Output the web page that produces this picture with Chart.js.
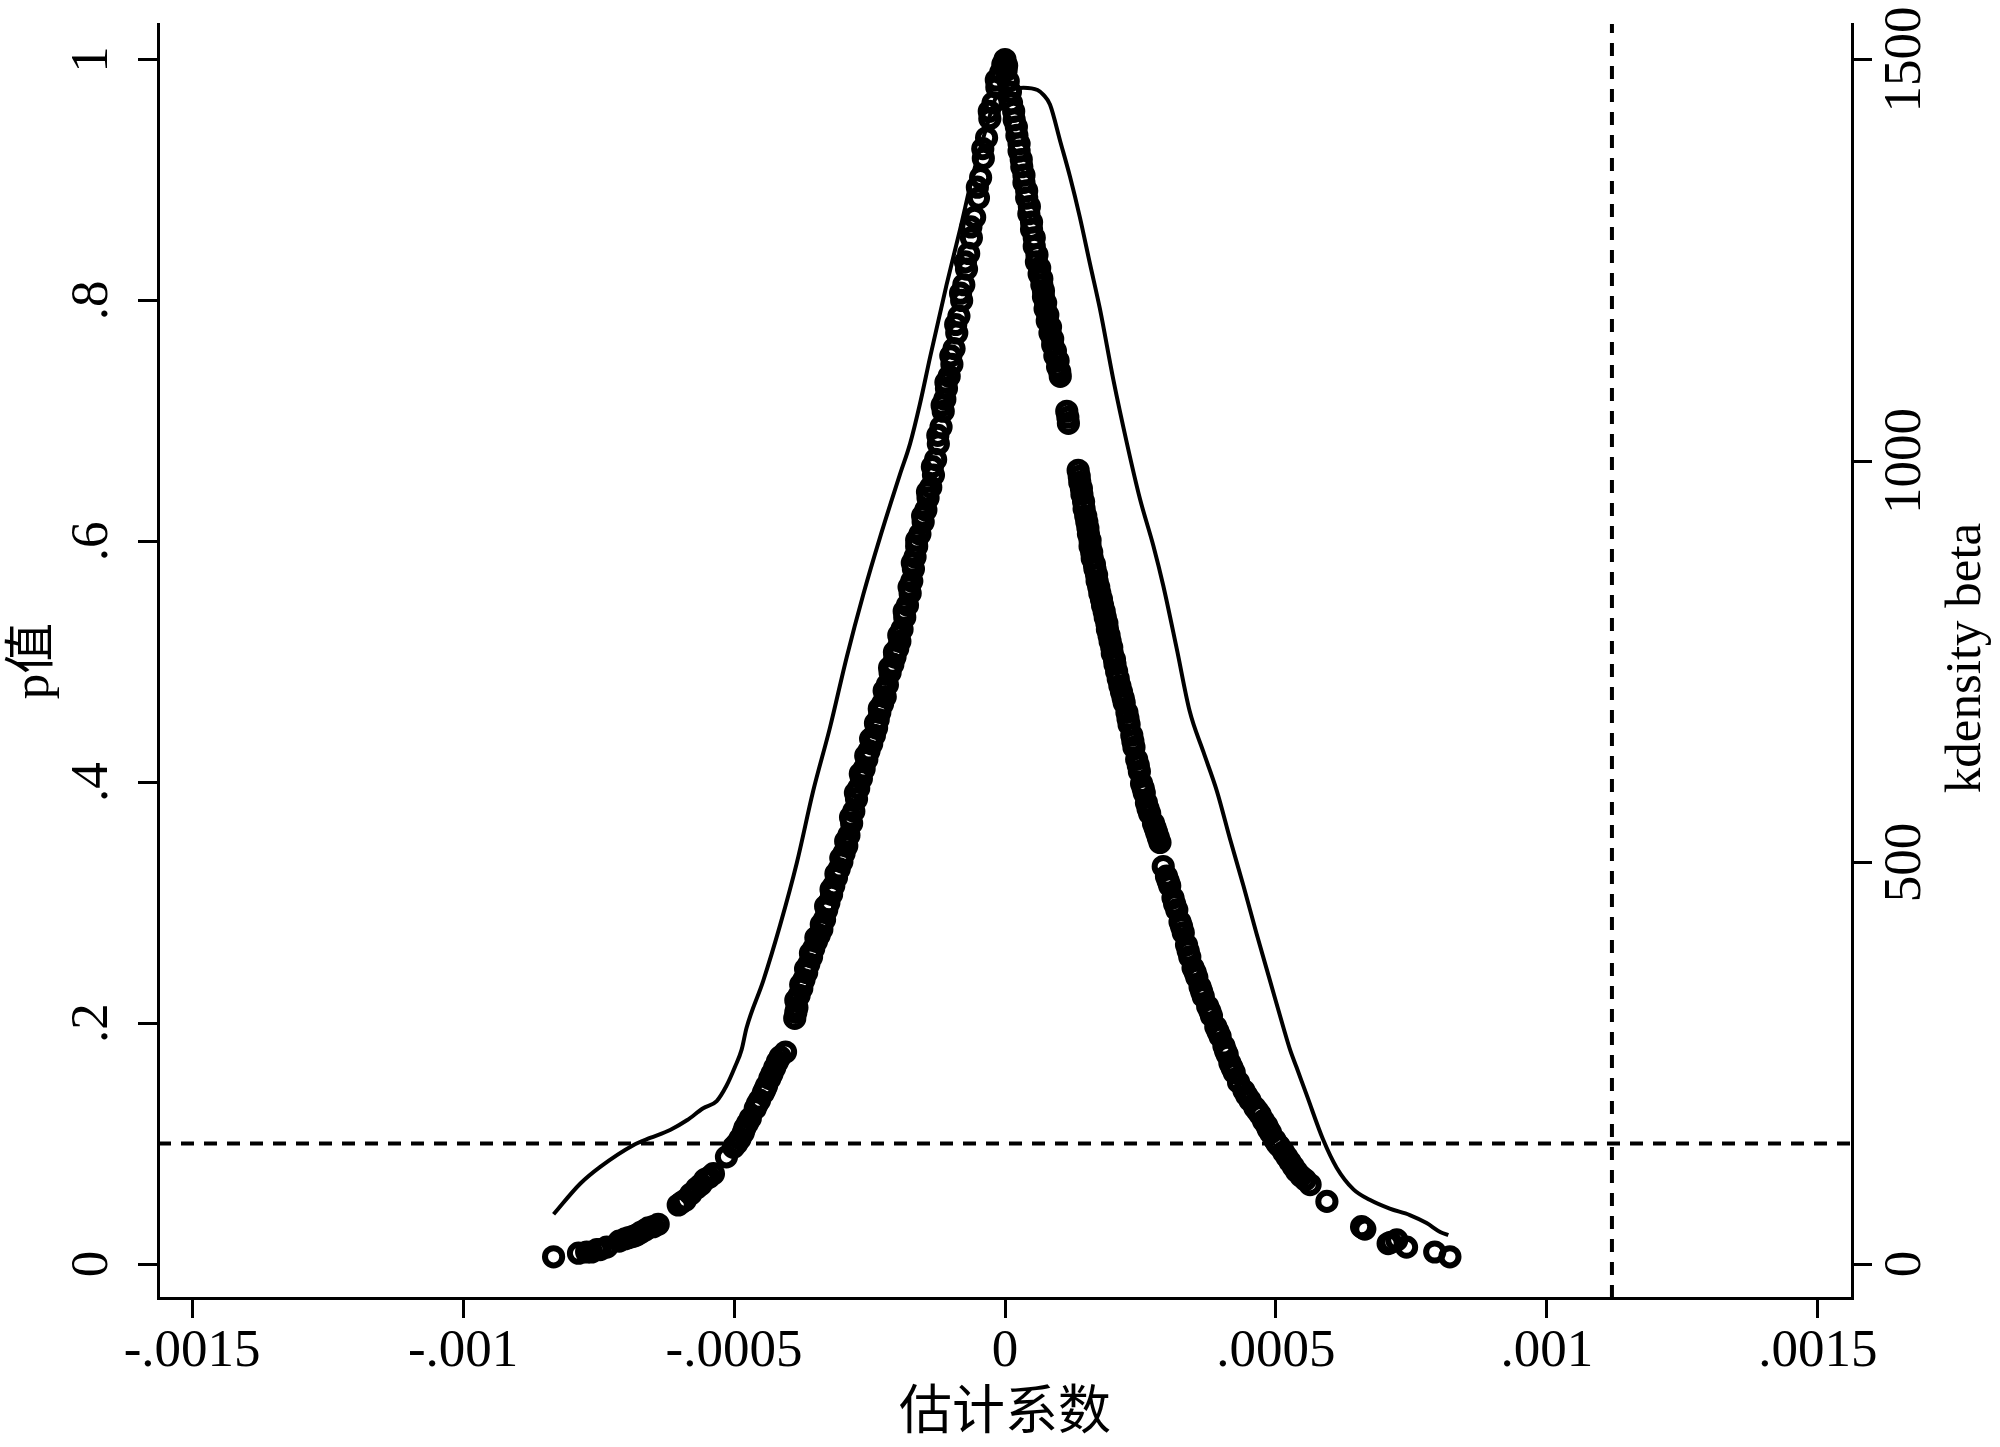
<!DOCTYPE html>
<html><head><meta charset="utf-8">
<script src="https://cdn.jsdelivr.net/npm/chart.js@4.4.0/dist/chart.umd.min.js"></script>
<style>html,body{margin:0;padding:0;background:#fff;}canvas{display:block;}</style>
</head><body>
<canvas id="c" width="2000" height="1447"></canvas>
<script>
// ---- tick values / labels ----
const xTickValues = [-0.0015, -0.001, -0.0005, 0, 0.0005, 0.001, 0.0015];
const xTickLabels = ['-.0015', '-.001', '-.0005', '0', '.0005', '.001', '.0015'];
const pTickValues = [0, 0.2, 0.4, 0.6, 0.8, 1];
const pTickLabels = ['0', '.2', '.4', '.6', '.8', '1'];
const densTickValues = [0, 500, 1000, 1500];
const densTickLabels = ['0', '500', '1000', '1500'];

// ---- axis ranges ----
const xMin = -0.001563, xMax = 0.001563;
const pMin = -0.0282, pMax = 1.0295;
const dMin = -42.3, dMax = 1544.25;

// ---- reference lines ----
const refP = 0.1;
const refBeta = 0.00112;

// ---- scatter: estimated coefficient vs p value ----
const scatterBeta = [
-0.000833,-0.000787,-0.000772,-0.000763,-0.000753,-0.000747,-0.000735,-0.000712,-0.000701,-0.000694,
-0.000686,-0.000680,-0.000673,-0.000665,-0.000658,-0.000649,-0.000640,-0.000603,-0.000597,-0.000590,
-0.000580,-0.000569,-0.000561,-0.000554,-0.000546,-0.000538,-0.000514,-0.000501,-0.000489,-0.000483,
-0.000480,-0.000470,-0.000461,-0.000453,-0.000446,-0.000440,-0.000434,-0.000425,-0.000415,-0.000405,
-0.000388,-0.000384,
-0.000380,-0.000375,-0.000371,-0.000366,-0.000362,-0.000357,-0.000353,-0.000348,-0.000343,-0.000338,
-0.000333,-0.000329,-0.000325,-0.000320,-0.000316,-0.000311,-0.000306,-0.000301,-0.000297,-0.000292,
-0.000288,-0.000283,-0.000279,-0.000274,-0.000270,-0.000265,-0.000260,-0.000255,-0.000251,-0.000246,
-0.000241,-0.000237,-0.000234,-0.000231,-0.000226,-0.000221,-0.000217,-0.000212,-0.000207,-0.000203,
-0.000198,-0.000194,-0.000190,-0.000185,-0.000180,-0.000175,-0.000172,-0.000169,-0.000166,-0.000163,
-0.000157,-0.000151,-0.000146,-0.000142,-0.000137,-0.000132,-0.000128,-0.000123,-0.000118,-0.000114,
-0.000111,-0.000108,-0.000103,-0.000098,-0.000094,-0.000089,-0.000085,-0.000080,-0.000076,-0.000071,
-0.000067,-0.000062,-0.000056,-0.000049,-0.000045,-0.000040,-0.000034,-0.000028,-0.000022,-0.000015,
-0.000008,0.000000,
0.000003,0.000006,0.000012,0.000017,0.000022,0.000026,0.000031,0.000035,0.000040,0.000044,
0.000049,0.000054,0.000058,0.000063,0.000068,0.000071,0.000074,0.000078,0.000083,0.000088,
0.000092,0.000097,0.000102,0.000114,0.000117,0.000135,0.000138,0.000142,0.000146,0.000151,
0.000154,0.000157,0.000161,0.000166,0.000170,0.000175,0.000180,0.000185,0.000189,0.000194,
0.000198,0.000203,0.000209,0.000215,0.000220,0.000225,0.000229,0.000234,0.000238,0.000243,
0.000248,0.000252,0.000257,0.000261,0.000267,0.000274,0.000280,0.000286,0.000292,0.000298,
0.000304,0.000310,0.000317,0.000323,0.000329,0.000335,0.000341,0.000347,0.000354,0.000360,
0.000366,0.000374,0.000381,0.000389,0.000397,0.000404,0.000410,0.000415,0.000423,0.000431,
0.000441,0.000452,0.000461,0.000471,0.000477,0.000483,0.000490,0.000498,0.000506,0.000514,
0.000520,0.000526,0.000532,0.000538,0.000546,0.000554,0.000563,0.000594,0.000658,0.000661,
0.000664,0.000707,0.000712,0.000723,0.000741,0.000793,0.000821,
// second pass along the dense arms
-0.000495,-0.000475,-0.000457,-0.000443,-0.000430,-0.000420,-0.000386,
-0.000386,-0.000377,-0.000368,-0.000359,-0.000349,-0.000339,-0.000331,-0.000321,-0.000312,-0.000303,
-0.000294,-0.000285,-0.000276,-0.000267,-0.000257,-0.000248,-0.000239,-0.000232,-0.000223,-0.000213,
-0.000204,-0.000196,-0.000186,-0.000177,-0.000171,-0.000163,-0.000152,-0.000143,-0.000134,-0.000124,
-0.000116,-0.000109,-0.000100,-0.000091,-0.000082,-0.000073,-0.000063,-0.000051,-0.000041,-0.000029,
-0.000016,-0.000004,
0.000002,0.000010,0.000016,0.000021,0.000026,0.000030,0.000035,0.000040,0.000045,0.000049,
0.000054,0.000059,0.000064,0.000068,0.000071,0.000075,0.000079,0.000084,0.000088,0.000093,
0.000098,0.000101,0.000116,0.000137,0.000141,0.000145,0.000149,0.000153,0.000157,0.000160,
0.000165,0.000169,0.000173,0.000178,0.000183,0.000188,0.000192,0.000197,0.000202,0.000206,
0.000212,0.000218,0.000227,0.000236,0.000246,0.000255,0.000264,0.000277,0.000283,0.000301,
0.000313,0.000326,0.000338,0.000351,0.000363,0.000378,0.000393,0.000407,0.000419,0.000446,
0.000466,0.000486,0.000502
];
const scatterP = [
0.006,0.009,0.010,0.010,0.012,0.012,0.014,0.019,0.021,0.022,
0.023,0.024,0.026,0.028,0.030,0.031,0.033,0.049,0.051,0.053,
0.058,0.063,0.066,0.070,0.072,0.075,0.089,0.097,0.104,0.109,
0.113,0.121,0.129,0.136,0.142,0.148,0.154,0.163,0.172,0.176,
0.204,0.213,
0.223,0.229,0.236,0.242,0.249,0.255,0.262,0.268,0.273,0.278,
0.286,0.294,0.300,0.307,0.314,0.321,0.328,0.334,0.341,0.347,
0.356,0.366,0.376,0.386,0.395,0.403,0.411,0.419,0.426,0.432,
0.439,0.445,0.452,0.458,0.465,0.471,0.481,0.491,0.498,0.504,
0.511,0.517,0.527,0.537,0.547,0.557,0.567,0.577,0.587,0.596,
0.606,0.616,0.626,0.636,0.645,0.655,0.668,0.681,0.695,0.708,
0.718,0.727,0.737,0.747,0.760,0.773,0.787,0.800,0.813,0.826,
0.839,0.852,0.869,0.885,0.902,0.918,0.935,0.951,0.964,0.977,
0.989,1.000,
0.995,0.982,0.964,0.950,0.937,0.924,0.911,0.898,0.885,0.872,
0.859,0.845,0.832,0.822,0.813,0.803,0.793,0.783,0.773,0.763,
0.754,0.745,0.737,0.708,0.698,0.659,0.649,0.639,0.627,0.616,
0.606,0.596,0.586,0.577,0.567,0.557,0.547,0.537,0.527,0.517,
0.507,0.498,0.486,0.475,0.466,0.458,0.448,0.439,0.429,0.419,
0.409,0.399,0.391,0.383,0.374,0.366,0.358,0.350,0.330,0.322,
0.314,0.304,0.294,0.284,0.275,0.265,0.255,0.246,0.238,0.230,
0.222,0.214,0.206,0.197,0.189,0.181,0.174,0.167,0.159,0.151,
0.144,0.136,0.130,0.124,0.119,0.115,0.109,0.103,0.098,0.093,
0.089,0.085,0.081,0.077,0.073,0.070,0.066,0.052,0.031,0.030,
0.029,0.017,0.018,0.020,0.014,0.010,0.006,
// second pass along the dense arms
0.100,0.117,0.133,0.145,0.158,0.168,0.209,
0.219,0.232,0.245,0.258,0.271,0.282,0.297,0.311,0.324,0.337,
0.351,0.371,0.391,0.407,0.422,0.436,0.449,0.461,0.476,0.495,
0.508,0.522,0.542,0.562,0.582,0.601,0.621,0.641,0.662,0.688,
0.713,0.732,0.754,0.780,0.806,0.832,0.861,0.894,0.926,0.957,
0.983,0.996,
0.991,0.973,0.957,0.944,0.930,0.917,0.904,0.891,0.878,0.865,
0.852,0.838,0.827,0.818,0.808,0.798,0.788,0.778,0.768,0.758,
0.750,0.741,0.703,0.654,0.644,0.633,0.621,0.611,0.601,0.591,
0.581,0.572,0.562,0.552,0.542,0.532,0.522,0.512,0.502,0.492,
0.480,0.470,0.453,0.434,0.414,0.395,0.378,0.362,0.354,0.318,
0.299,0.280,0.260,0.242,0.226,0.210,0.193,0.177,0.163,0.140,
0.127,0.112,0.100
];

// ---- kernel density of beta (right axis) ----
const kdBeta = [
-0.000833,-0.000784,-0.000747,-0.000686,-0.000655,-0.000618,-0.000587,-0.000557,-0.000532,-0.000514,
-0.000498,-0.000486,-0.000477,-0.000446,-0.000415,-0.000384,-0.000354,-0.000323,-0.000292,-0.000261,
-0.000231,-0.000194,-0.000175,-0.000157,-0.000138,-0.000108,-0.000083,-0.000059,-0.000034,-0.000015,
0.000010,0.000034,0.000060,0.000071,0.000083,0.000102,0.000120,0.000138,0.000157,0.000175,
0.000200,0.000225,0.000249,0.000274,0.000292,0.000317,0.000341,0.000366,0.000391,0.000415,
0.000440,0.000464,0.000489,0.000514,0.000526,0.000538,0.000557,0.000587,0.000612,0.000643,
0.000673,0.000710,0.000747,0.000778,0.000803,0.000818
];
const kdDensity = [
62,100,121,148,157,167,179,194,203,222,
246,267,294,353,422,500,589,668,756,835,
904,983,1022,1071,1130,1219,1288,1357,1416,1455,
1463,1465,1462,1456,1444,1398,1354,1304,1245,1190,
1101,1022,953,894,845,766,688,638,589,530,
471,412,353,294,267,245,210,155,120,93,
80,69,61,51,40,36
];

const serif = "'Liberation Serif', 'Noto Sans CJK SC', serif";
const tickFont = { family: serif, size: 53, lineHeight: 1.2 };
const axisGrid = { drawOnChartArea: false, drawTicks: true, tickLength: 20, tickWidth: 3, tickColor: '#000', color: '#000', lineWidth: 3 };
const axisBorder = { display: true, color: '#000', width: 3 };
function fixedTicks(values) { return s => { s.ticks = values.map(v => ({ value: v })); }; }
function labelFor(values, labels) { return v => { const i = values.findIndex(t => Math.abs(t - v) < 1e-12); return i >= 0 ? labels[i] : ''; }; }
function fitV(w) { return s => { s.width = w; s.paddingTop = 0; s.paddingBottom = 0; }; }

const whiteBg = { id: 'whiteBg', beforeDraw(chart) { const c = chart.ctx; c.save(); c.fillStyle = '#fff'; c.fillRect(0, 0, chart.width, chart.height); c.restore(); } };
const rightTitle = {
  id: 'rightTitle',
  afterDraw(chart) {
    const { ctx, chartArea } = chart;
    const s = chart.scales.y2;
    ctx.save();
    ctx.font = "51px 'Liberation Serif'";
    ctx.fillStyle = '#000';
    ctx.textAlign = 'center';
    ctx.textBaseline = 'alphabetic';
    ctx.translate(s.right - 20, (chartArea.top + chartArea.bottom) / 2 - 3);
    ctx.rotate(-Math.PI / 2);
    ctx.fillText('kdensity beta', 0, 0);
    ctx.restore();
  }
};

new Chart(document.getElementById('c'), {
  type: 'line',
  data: {
    datasets: [
      { type: 'line', label: 'p=0.1', data: [{ x: xMin, y: refP }, { x: xMax, y: refP }], yAxisID: 'y',
        borderColor: '#000', borderWidth: 4, borderDash: [13, 10], pointRadius: 0, fill: false, order: 0 },
      { type: 'line', label: 'beta', data: [{ x: refBeta, y: pMin }, { x: refBeta, y: pMax }], yAxisID: 'y',
        borderColor: '#000', borderWidth: 4, borderDash: [13, 10], pointRadius: 0, fill: false, order: 0 },
      { type: 'line', label: 'kdensity beta', data: kdBeta.map((b, i) => ({ x: b, y: kdDensity[i] })), yAxisID: 'y2',
        borderColor: '#000', borderWidth: 4, pointRadius: 0, fill: false, cubicInterpolationMode: 'monotone', order: 1 },
      { type: 'scatter', label: 'p值', data: scatterBeta.map((b, i) => ({ x: b, y: scatterP[i] })), yAxisID: 'y',
        pointStyle: 'circle', pointRadius: 8.6, pointBorderWidth: 6, pointBorderColor: '#000',
        pointBackgroundColor: 'rgba(0,0,0,0)', showLine: false, order: 2 }
    ]
  },
  options: {
    responsive: false, animation: false, devicePixelRatio: 1,
    layout: { padding: { top: 24, left: 0, right: 0, bottom: 0 } },
    plugins: { legend: { display: false }, tooltip: { enabled: false } },
    scales: {
      x: {
        type: 'linear', position: 'bottom', min: xMin, max: xMax,
        afterBuildTicks: fixedTicks(xTickValues),
        afterFit: s => { s.height = 149; s.paddingLeft = 0; s.paddingRight = 0; },
        ticks: { autoSkip: false, minRotation: 0, maxRotation: 0, padding: 2, color: '#000', font: tickFont,
                 callback: labelFor(xTickValues, xTickLabels) },
        grid: axisGrid, border: axisBorder,
        title: { display: true, text: '估计系数', color: '#000',
                 font: { family: "'Noto Sans CJK SC', sans-serif", size: 53, lineHeight: 1.2 }, padding: { top: 0, bottom: 6 } }
      },
      y: {
        type: 'linear', position: 'left', min: pMin, max: pMax,
        afterBuildTicks: fixedTicks(pTickValues),
        afterFit: fitV(158),
        ticks: { autoSkip: false, minRotation: 90, maxRotation: 90, crossAlign: 'center', padding: 25, color: '#000', font: tickFont,
                 callback: labelFor(pTickValues, pTickLabels) },
        grid: axisGrid, border: axisBorder,
        title: { display: true, text: 'p值', color: '#000',
                 font: { family: serif, size: 51, lineHeight: 1.2 }, padding: { top: 4, bottom: 0 } }
      },
      y2: {
        type: 'linear', position: 'right', min: dMin, max: dMax,
        afterBuildTicks: fixedTicks(densTickValues),
        afterFit: fitV(148),
        ticks: { autoSkip: false, minRotation: 90, maxRotation: 90, crossAlign: 'center', padding: -19, color: '#000', font: tickFont,
                 callback: labelFor(densTickValues, densTickLabels) },
        grid: axisGrid, border: axisBorder
      }
    }
  },
  plugins: [whiteBg, rightTitle]
});
</script>
</body></html>
